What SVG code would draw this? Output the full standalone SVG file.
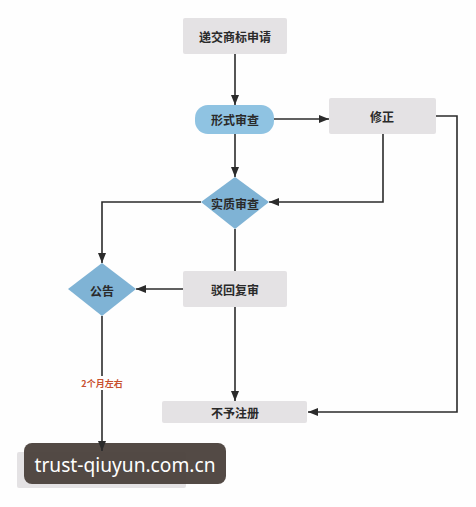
<svg xmlns="http://www.w3.org/2000/svg" width="476" height="507" viewBox="0 0 476 507">
<defs>
<marker id="ah" viewBox="0 0 10 10" refX="10" refY="5" markerWidth="10" markerHeight="10" markerUnits="userSpaceOnUse" orient="auto">
<path d="M0,1 L10,5 L0,9 Z" fill="#2b2b2b"/>
</marker>
<style>
.box{fill:#e4e2e4;}
.blue{fill:#8fc3e2;}
.dia{fill:#7fb3d5;}
.t{font-family:"Noto Sans CJK SC","Noto Sans",sans-serif;font-size:12px;font-weight:bold;fill:#2a2a2a;text-anchor:middle;dominant-baseline:central;}
.ln{fill:none;stroke:#2b2b2b;stroke-width:1.6;}
</style>
</defs>
<rect width="476" height="507" fill="#fefefe"/>
<g id="n-register"><rect class="box" x="17" y="452" width="169" height="36" rx="2"/></g>
<g id="watermark"><rect x="24" y="443" width="202" height="41" rx="8" fill="#4a403b" fill-opacity="0.95"/><text x="125" y="464" font-family="Noto Sans,sans-serif" font-size="20" fill="#ffffff" text-anchor="middle" dominant-baseline="central" textLength="181" lengthAdjust="spacingAndGlyphs">trust-qiuyun.com.cn</text></g>
<g id="connectors">
<line class="ln" x1="235" y1="54" x2="235" y2="105" marker-end="url(#ah)"/>
<line class="ln" x1="274" y1="119" x2="329" y2="119" marker-end="url(#ah)"/>
<line class="ln" x1="235" y1="134" x2="235" y2="177" marker-end="url(#ah)"/>
<polyline class="ln" points="383,134 383,202 269,202" marker-end="url(#ah)"/>
<polyline class="ln" points="436,116 457,116 457,412 308,412" marker-end="url(#ah)"/>
<polyline class="ln" points="201,202 102,202 102,263" marker-end="url(#ah)"/>
<line class="ln" x1="235" y1="229" x2="235" y2="271"/>
<line class="ln" x1="183" y1="289" x2="136" y2="289" marker-end="url(#ah)"/>
<line class="ln" x1="235" y1="307" x2="235" y2="401" marker-end="url(#ah)"/>
<line class="ln" x1="102" y1="316" x2="102" y2="451" marker-end="url(#ah)"/>
<rect x="78" y="376" width="48" height="14" fill="#fefefe"/>
<text x="102" y="383" font-family="Noto Sans CJK SC,sans-serif" font-size="9" font-weight="bold" fill="#c8502e" text-anchor="middle" dominant-baseline="central">2个月左右</text>
</g>
<g id="n-submit"><rect class="box" x="183" y="18" width="104" height="36" rx="2"/><text class="t" x="235" y="36">递交商标申请</text></g>
<g id="n-formal"><rect class="blue" x="195" y="105" width="79" height="29" rx="13"/><text class="t" x="235" y="119.5">形式审查</text></g>
<g id="n-fix"><rect class="box" x="329" y="98" width="107" height="36" rx="2"/><text class="t" x="382" y="116">修正</text></g>
<g id="n-substantive"><polygon class="dia" points="235,177 269,202 235,229 201,202"/><text class="t" x="235" y="203">实质审查</text></g>
<g id="n-announce"><polygon class="dia" points="102,263 136,289 102,316 68,289"/><text class="t" x="102" y="290">公告</text></g>
<g id="n-review"><rect class="box" x="183" y="271" width="104" height="36" rx="2"/><text class="t" x="235" y="289">驳回复审</text></g>
<g id="n-reject"><rect class="box" x="162" y="401" width="145" height="22" rx="2"/><text class="t" x="235" y="412">不予注册</text></g>
</svg>
